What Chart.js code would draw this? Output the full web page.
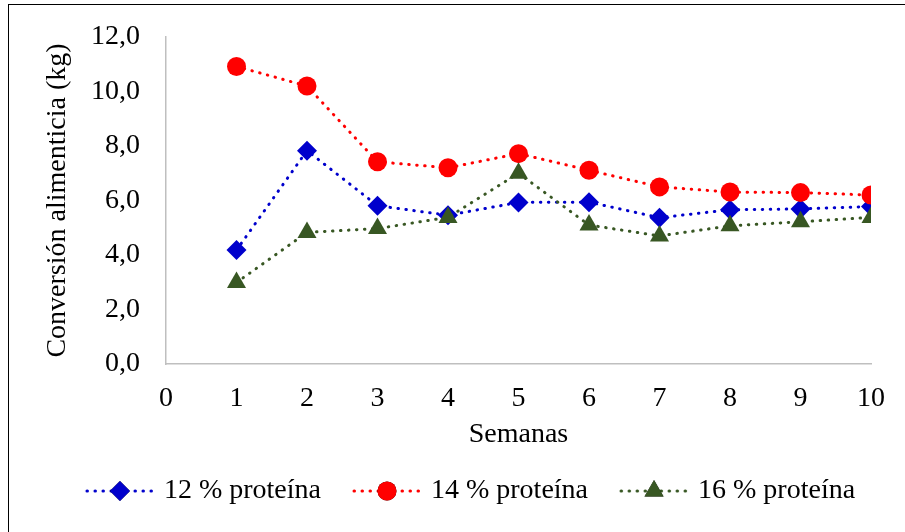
<!DOCTYPE html>
<html>
<head>
<meta charset="utf-8">
<script src="https://cdn.jsdelivr.net/npm/chart.js@4"></script>
<style>
    body { margin: 0; background: #fff; }
    #wrap { position: relative; width: 905px; height: 532px; overflow: hidden; }
    #frame { position: absolute; left: 8px; top: 4px; width: 1000px; height: 1000px; border: 1.5px solid #000; }
    #myChart { position: absolute; left: 0; top: 0; }
</style>
</head>
<body>
<div id="wrap">
    <div id="frame"></div>
    <canvas id="myChart" width="905" height="532"></canvas>
</div>
<script>
// weeks and feed conversion for each protein level
var semanas = [1, 2, 3, 4, 5, 6, 7, 8, 9, 10];
var proteina12 = [4.18, 7.83, 5.81, 5.46, 5.93, 5.94, 5.37, 5.66, 5.69, 5.78];
var proteina14 = [10.92, 10.2, 7.42, 7.2, 7.72, 7.11, 6.5, 6.31, 6.29, 6.2];
var proteina16 = [2.99, 4.83, 4.97, 5.38, 7.0, 5.1, 4.7, 5.07, 5.22, 5.38];
var etiquetas = ['12 % proteína', '14 % proteína', '16 % proteína'];
var colores = ['#0000CC', '#FF0000', '#385723'];
var marcadores = ['rectRot', 'circle', 'triangle'];
var radios = [10, 9.5, 11];

var fuente = 'Liberation Serif, Times New Roman, serif';

function toPoints(values) {
    var pts = [];
    for (var i = 0; i < semanas.length; i++) {
        pts.push({x: semanas[i], y: values[i]});
    }
    return pts;
}

// legend icon: dotted line with the marker in the middle
function legendIcon(i) {
    var c = document.createElement('canvas');
    c.width = 72;
    c.height = 26;
    var g = c.getContext('2d');
    g.strokeStyle = colores[i];
    g.lineWidth = 3;
    g.lineCap = 'round';
    g.setLineDash([0.5, 7.5]);
    g.beginPath();
    g.moveTo(3, 13);
    g.lineTo(70, 13);
    g.stroke();
    g.setLineDash([]);
    Chart.helpers.drawPoint(g, {pointStyle: marcadores[i], radius: radios[i], rotation: 0, borderWidth: 0}, 36, 13);
    g.fillStyle = colores[i];
    g.fill();
    return c;
}

var series = [proteina12, proteina14, proteina16];
var datasets = series.map(function (s, i) {
    return {
        label: etiquetas[i],
        data: toPoints(s),
        borderColor: colores[i],
        backgroundColor: colores[i],
        borderWidth: 3,
        borderDash: [0.5, 7.5],
        borderCapStyle: 'round',
        pointStyle: marcadores[i],
        pointRadius: radios[i],
        pointBorderWidth: 0,
        pointBackgroundColor: colores[i],
        tension: 0,
        order: 3 - i
    };
});

var icons = [legendIcon(0), legendIcon(1), legendIcon(2)];

// move the legend a bit to the right, like the original
var legendShift = {
    id: 'legendShift',
    afterLayout: function (ch) {
        ch.legend.left = 40;
        ch.legend.right = 905;
    }
};

var ctx = document.getElementById('myChart').getContext('2d');
var chart = new Chart(ctx, {
    type: 'line',
    data: { datasets: datasets },
    plugins: [legendShift],
    options: {
        responsive: false,
        animation: false,
        layout: { padding: { top: 37, left: 0, right: 34, bottom: 17 } },
        plugins: {
            tooltip: { enabled: false },
            legend: {
                position: 'bottom',
                labels: {
                    usePointStyle: true,
                    pointStyleWidth: 60,
                    padding: 36,
                    color: '#000',
                    font: { family: fuente, size: 28 },
                    generateLabels: function (ch) {
                        return etiquetas.map(function (t, i) {
                            return { text: t, pointStyle: icons[i], datasetIndex: i, hidden: false, lineWidth: 0, fillStyle: colores[i], strokeStyle: colores[i], fontColor: '#000' };
                        });
                    }
                }
            }
        },
        scales: {
            x: {
                type: 'linear',
                min: 0,
                max: 10,
                grid: { display: false, drawTicks: false },
                border: { color: '#BFBFBF', width: 1.5 },
                ticks: { stepSize: 1, padding: 18, color: '#000', font: { family: fuente, size: 28 } },
                title: { display: true, text: 'Semanas', color: '#000', font: { family: fuente, size: 28 }, padding: { top: 0, bottom: -10 } },
                afterFit: function (scale) { scale.height = 77; }
            },
            y: {
                min: 0,
                max: 12,
                grid: { display: false, drawTicks: false },
                border: { color: '#BFBFBF', width: 1.5 },
                ticks: {
                    stepSize: 2,
                    padding: 26,
                    color: '#000',
                    font: { family: fuente, size: 28 },
                    callback: function (v) { return v.toFixed(1).replace('.', ','); }
                },
                title: { display: true, text: 'Conversión alimenticia (kg)', color: '#000', font: { family: fuente, size: 28 }, padding: { top: 41, bottom: 0 } },
                afterFit: function (scale) {
                    scale.width = 166;
                    scale.paddingTop = 16;
                    scale.paddingBottom = 16;
                }
            }
        }
    }
});
</script>
</body>
</html>
